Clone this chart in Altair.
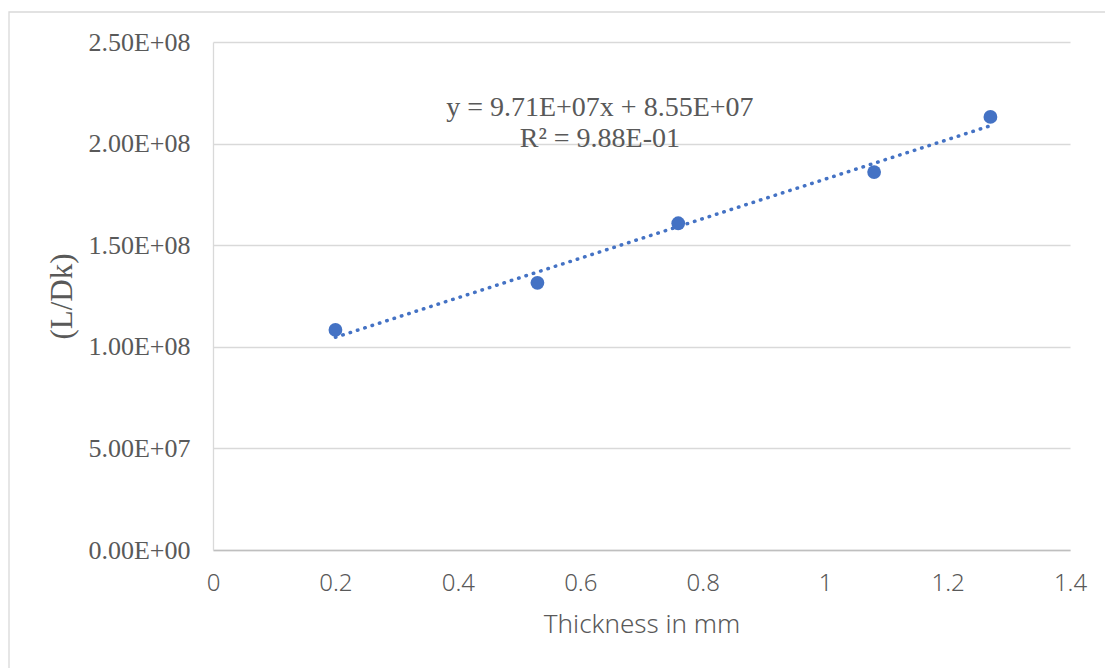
import altair as alt
import pandas as pd

# ---- data ----
thickness = [0.2, 0.53, 0.76, 1.08, 1.27]
l_over_dk = [1.083e8, 1.315e8, 1.608e8, 1.860e8, 2.131e8]

x_ticks = [0, 0.2, 0.4, 0.6, 0.8, 1.0, 1.2, 1.4]
y_ticks = [0, 5e7, 1e8, 1.5e8, 2e8, 2.5e8]
y_tick_labels = ["0.00E+00", "5.00E+07", "1.00E+08", "1.50E+08", "2.00E+08", "2.50E+08"]

ann_text = ["y = 9.71E+07x + 8.55E+07", "R\u00b2 = 9.88E-01"]
ann_x = [0.632, 0.632]
ann_y = [2.136e8, 1.985e8]

df = pd.DataFrame({"x": thickness, "y": l_over_dk})
ann = pd.DataFrame({"t": ann_text, "x": ann_x, "y": ann_y})

label_expr = ""
for v, s in zip(y_ticks, y_tick_labels):
    label_expr += f"datum.value == {int(v)} ? '{s}' : "
label_expr += "''"

GREY = "#595959"
BLUE = "#4472C4"
SERIF = "Liberation Serif"
SANS = "Noto Sans"

x_scale = alt.Scale(domain=[0, 1.4], nice=False, zero=False)
y_scale = alt.Scale(domain=[0, 2.5e8], nice=False)

x_axis = alt.Axis(
    values=x_ticks, format=".1~f", title="Thickness in mm",
    labelFont=SANS, labelFontSize=24, labelColor=GREY, labelPadding=21,
    labelFontWeight=300, labelFlush=False, labelOverlap=False,
    titleFont=SANS, titleFontSize=26, titleColor=GREY, titleFontWeight=300,
    titleBaseline="alphabetic", titleY=82,
    domainColor="#bfbfbf", domainWidth=1.3, ticks=False, grid=False,
)
y_axis = alt.Axis(
    values=y_ticks, labelExpr=label_expr, title="(L/Dk)",
    labelFont=SERIF, labelFontSize=26, labelColor=GREY, labelPadding=23,
    labelFlush=False, labelOverlap=False,
    titleFont=SERIF, titleFontSize=31, titleColor=GREY, titleFontWeight="normal",
    titleAngle=270, titleAlign="center", titleBaseline="middle",
    titleX=-151, titleY=254,
    domainColor="#d9d9d9", domainWidth=1.3, ticks=False,
    grid=True, gridColor="#d9d9d9", gridWidth=1.3,
)

frame = alt.Chart(alt.Data(values=[{}])).mark_rect(
    fill=None, stroke="#d9d9d9", strokeWidth=1.3
).encode(
    x=alt.value(-204), x2=alt.value(900),
    y=alt.value(-30), y2=alt.value(640),
)

points = alt.Chart(df).mark_point(
    filled=True, size=190, color=BLUE, opacity=1
).encode(
    x=alt.X("x:Q", scale=x_scale, axis=x_axis),
    y=alt.Y("y:Q", scale=y_scale, axis=y_axis),
)

trend = alt.Chart(df).transform_regression("x", "y").mark_line(
    color=BLUE, strokeWidth=3.5, strokeCap="round", strokeDash=[0.5, 7.2]
).encode(
    x=alt.X("x:Q", scale=x_scale),
    y=alt.Y("y:Q", scale=y_scale),
)

labels = alt.Chart(ann).mark_text(
    font=SERIF, fontSize=28, color=GREY, align="center", baseline="alphabetic"
).encode(
    x=alt.X("x:Q", scale=x_scale),
    y=alt.Y("y:Q", scale=y_scale),
    text="t:N",
)

chart = alt.layer(frame, trend, points, labels).properties(
    width=857, height=508,
    autosize=alt.AutoSizeParams(type="none"),
    padding={"left": 213, "top": 42, "right": 35, "bottom": 118},
    background="white",
).configure_view(stroke=None)

chart.save("out.html", embed_options={"renderer": "svg", "actions": False})
